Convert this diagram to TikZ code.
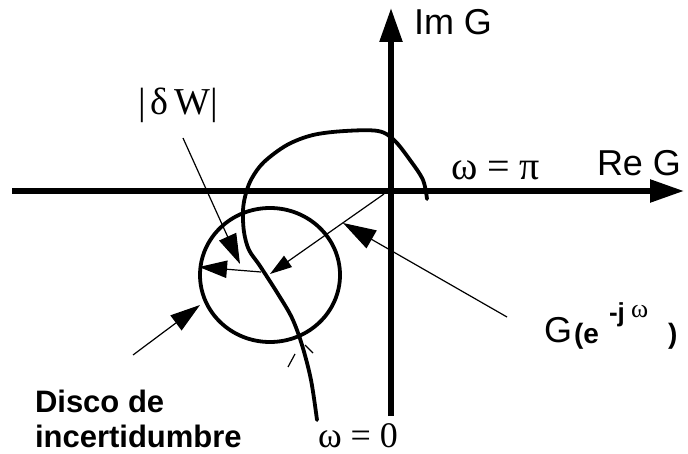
\documentclass[tikz,border=0pt]{standalone}
\usepackage{fontspec}
\setmainfont{Liberation Sans}
\newfontfamily\serif{Liberation Serif}
\usetikzlibrary{arrows.meta}
\tikzset{
  axisline/.style={line width=5.5pt, -{Triangle[length=34pt,width=22pt]}},
  nyq/.style={line width=3.8pt, line join=round, line cap=round},
  thinline/.style={line width=1.2pt},
  ptr/.style={thinline, -{Triangle[length=#1,width=0.62*#1]}},
  lbl/.style={anchor=base west, inner sep=0pt, outer sep=0pt},
}
\begin{document}
\begin{tikzpicture}[x=1pt,y=-1pt]
\useasboundingbox (0,0) rectangle (688,454);
% axes
\coordinate (xl) at (12,191);
\coordinate (xr) at (684,191);
\coordinate (yb) at (391,416);
\coordinate (yt) at (391,8);
\draw[axisline] (xl) -- (xr);
\draw[axisline] (yb) -- (yt);
% Nyquist curve
\draw[nyq] plot[smooth, tension=0.55] coordinates {
 (427,199) (423,180) (410,160) (394,140) (378,131) (345,131) (313,135)
 (287,145) (264,162) (252,178) (246,193) (243,210) (244,232) (249,250)
 (260,266) (278,294) (292,318) (302,345) (311,380) (317,420)};
% uncertainty disc
\coordinate (dc) at (270,275);
\draw[line width=3.8pt] (dc) ellipse [x radius=70, y radius=67];
% named points
\coordinate (o) at (384,194);
\coordinate (gp) at (270,274);
\coordinate (gp2) at (261,272);
\coordinate (dl) at (199,267);
\coordinate (dws) at (183,138);
\coordinate (dwt) at (240,264);
\coordinate (gs) at (507,317);
\coordinate (gt) at (343,223);
\coordinate (ds) at (133,355);
\coordinate (dt) at (200,305);
\draw[ptr=22pt] (o) -- (gp);
\draw[ptr=28pt] (gp2) -- (dl);
\draw[ptr=30pt] (dws) -- (dwt);
\draw[ptr=33pt] (gs) -- (gt);
\draw[ptr=30pt] (ds) -- (dt);
% small ticks near the disc crossing
\coordinate (ta) at (288,367);
\coordinate (tb) at (295,354);
\coordinate (tc) at (305,345);
\coordinate (td) at (313,353);
\draw[thinline] (ta) -- (tb);
\draw[thinline] (tc) -- (td);
% labels
\node[lbl] (im) at (414,35) {\fontsize{36}{40}\selectfont Im G};
\node[lbl] (re) at (597,176) {\fontsize{36}{40}\selectfont Re G};
\node[lbl] (wpi) at (451,180) {\serif\fontsize{40}{44}\selectfont ω = π};
\node[lbl] (w0) at (318,447) {\serif\fontsize{36}{40}\selectfont ω = 0};
\node[lbl] (dw) at (138,115) {\serif\fontsize{38}{42}\selectfont |\hspace{5pt}δ\hspace{6pt}W|};
\node[lbl] (gG) at (544,342) {\fontsize{36}{40}\selectfont G};
\node[lbl] (gpar) at (574,343) {\fontsize{28}{32}\selectfont\bfseries (e};
\node[lbl] (gj) at (609,322) {\fontsize{26}{30}\selectfont\bfseries -j};
\node[lbl] (gw) at (631,317) {\serif\fontsize{26}{30}\selectfont ω};
\node[lbl] (gpr) at (668,343) {\fontsize{28}{32}\selectfont\bfseries )};
\node[lbl] (disco) at (35,412) {\fontsize{31}{35}\selectfont\bfseries Disco de};
\node[lbl] (incert) at (35,447) {\fontsize{31}{35}\selectfont\bfseries incertidumbre};
\end{tikzpicture}
\end{document}
